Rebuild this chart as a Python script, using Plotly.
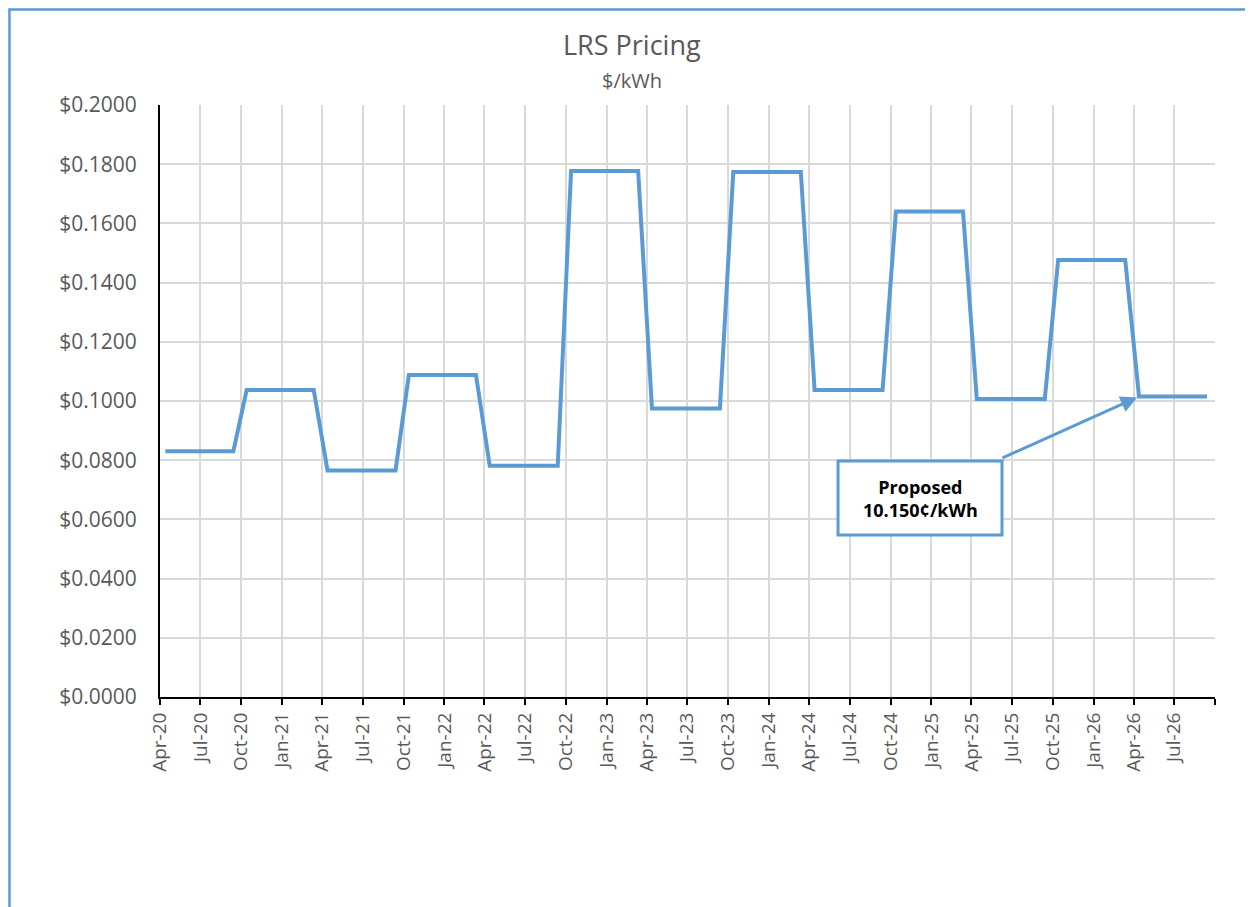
import plotly.graph_objects as go
import pandas as pd

# Six-month rate periods (start month) and their LRS prices in $/kWh
period_starts = ["2020-04", "2020-10", "2021-04", "2021-10", "2022-04", "2022-10",
                 "2023-04", "2023-10", "2024-04", "2024-10", "2025-04", "2025-10", "2026-04"]
period_prices = [0.0830, 0.1037, 0.0765, 0.1088, 0.0781, 0.1777,
                 0.0975, 0.1774, 0.1037, 0.1640, 0.1007, 0.1476, 0.1015]
months_per_period = 6

# Monthly series built from the periods
months = []
prices = []
for start, price in zip(period_starts, period_prices):
    for m in pd.period_range(start=start, periods=months_per_period, freq="M"):
        months.append(m.to_timestamp() + pd.Timedelta(days=12))
        prices.append(price)

# Axis ticks
x_tick_dates = list(pd.date_range("2020-04-01", "2026-10-01", freq="3MS"))
x_tick_text = [d.strftime("%b-%y") for d in x_tick_dates[:-1]] + [""]
y_ticks = [0.0, 0.02, 0.04, 0.06, 0.08, 0.10, 0.12, 0.14, 0.16, 0.18, 0.20]

title_text = "LRS Pricing"
subtitle_text = "$/kWh"
proposed_label = "Proposed<br>10.150¢/kWh"

BLUE = "#5b9bd5"
GRAY = "#595959"
FONT = "Open Sans"

fig = go.Figure()
fig.add_trace(go.Scatter(x=months, y=prices, mode="lines",
                         line=dict(color=BLUE, width=4), hoverinfo="x+y",
                         showlegend=False))

fig.update_layout(
    width=1253, height=907,
    margin=dict(l=152, r=46, t=97, b=218, autoexpand=False),
    paper_bgcolor="white", plot_bgcolor="white",
    font=dict(family=FONT, color=GRAY),
    xaxis=dict(
        range=["2020-04-01", "2026-10-01"],
        tickvals=x_tick_dates, ticktext=x_tick_text,
        tickangle=-90, tickfont=dict(size=19, color=GRAY),
        showgrid=True, gridcolor="#d9d9d9", gridwidth=1.5,
        showline=True, linecolor="black", linewidth=2,
        ticks="outside", ticklen=6, tickwidth=2, tickcolor="black",
        zeroline=False, fixedrange=True,
    ),
    yaxis=dict(
        range=[0, 0.2], tickvals=y_ticks, tickformat="$.4f",
        tickfont=dict(size=21, color=GRAY),
        ticklabelstandoff=17,
        showgrid=True, gridcolor="#d9d9d9", gridwidth=1.5,
        showline=True, linecolor="black", linewidth=2,
        ticks="", zeroline=False, fixedrange=True,
    ),
)

# Title and subtitle
fig.add_annotation(xref="paper", yref="paper", x=0.4474, y=1.1014,
                   xanchor="center", yanchor="middle", showarrow=False,
                   text=title_text, font=dict(size=27, color=GRAY, family=FONT))
fig.add_annotation(xref="paper", yref="paper", x=0.4474, y=1.0422,
                   xanchor="center", yanchor="middle", showarrow=False,
                   text=subtitle_text, font=dict(size=20, color=GRAY, family=FONT))

# Outer chart border (only top/left visible in reference)
fig.add_shape(type="rect", xref="paper", yref="paper",
              x0=-0.1427, x1=1.2, y0=-0.6, y1=1.1613,
              line=dict(color=BLUE, width=2.5), layer="below")

# Callout box
fig.add_shape(type="rect", xref="paper", yref="paper",
              x0=0.6427, x1=0.7981, y0=0.2736, y1=0.3986,
              line=dict(color=BLUE, width=3), fillcolor="white")
fig.add_annotation(xref="paper", yref="paper", x=0.7204, y=0.336,
                   xanchor="center", yanchor="middle", align="center",
                   text="<b>" + proposed_label + "</b>", showarrow=False,
                   font=dict(size=18, color="black", family=FONT))

# Arrow pointing at the proposed rate
arrow_x = months[period_starts.index("2026-04") * months_per_period]
arrow_y = period_prices[-1]
fig.add_annotation(x=arrow_x, y=arrow_y, xref="x", yref="y",
                   ax=-138, ay=62, showarrow=True, arrowhead=2, arrowsize=1.1,
                   arrowwidth=3, arrowcolor=BLUE, standoff=2, text="")

fig.write_html("out.html")
